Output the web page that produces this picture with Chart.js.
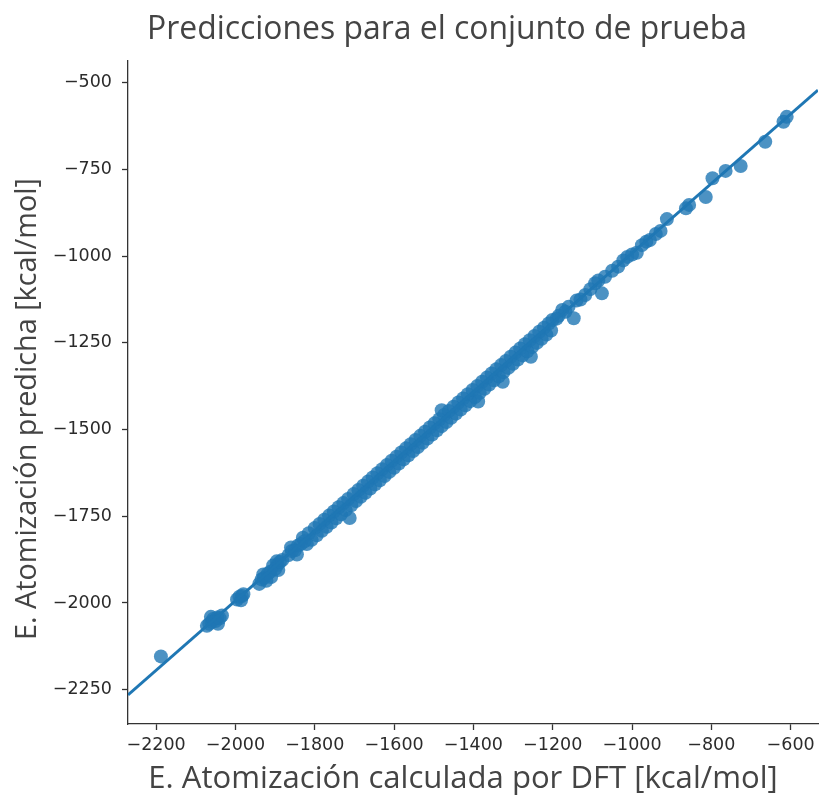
<!DOCTYPE html>
<html>
<head>
<meta charset="utf-8">
<script src="https://cdn.jsdelivr.net/npm/chart.js@4.4.0/dist/chart.umd.min.js"></script>
<style>
  html, body { margin: 0; padding: 0; background: #fff; }
</style>
</head>
<body>
<canvas id="chart" width="825" height="801"></canvas>
<script>
// test set: DFT atomization energy vs predicted (kcal/mol)
const dftX = [
  -2188,
  -2072, -2066, -2062, -2060, -2056, -2050, -2046, -2044, -2040, -2034,
  -1996, -1990, -1986, -1984, -1980,
  -1940, -1934, -1930, -1928, -1922, -1918, -1912, -1910, -1905, -1900, -1896, -1894, -1892, -1888, -1882,
  -1866, -1860, -1858, -1850, -1845, -1842, -1835, -1830, -1826, -1820,
  -1815, -1808, -1800, -1795, -1788, -1782, -1776, -1770, -1764, -1758,
  -1752, -1746, -1740, -1734, -1728, -1722, -1716, -1712, -1708, -1702,
  -1696, -1690, -1684, -1678, -1672, -1666, -1660, -1654, -1648, -1642,
  -1636, -1630, -1624, -1618, -1612, -1606, -1600, -1594, -1588, -1582,
  -1576, -1570, -1564, -1558, -1552, -1546, -1540, -1534, -1528, -1522,
  -1516, -1510, -1504, -1498, -1492, -1486, -1480, -1480, -1474, -1468,
  -1462, -1456, -1450, -1444, -1438, -1432, -1426, -1420, -1414, -1408,
  -1402, -1396, -1388, -1390, -1384, -1378, -1372, -1366, -1360, -1354,
  -1348, -1342, -1336, -1326, -1330, -1324, -1318, -1312, -1306, -1300,
  -1294, -1288, -1282, -1276, -1270, -1264, -1255, -1258, -1252, -1246,
  -1240, -1234, -1228, -1222, -1216, -1210, -1204,
  -1201, -1190, -1185, -1176, -1168, -1160, -1147, -1140, -1130, -1118,
  -1105, -1093, -1085, -1076, -1068, -1050, -1035, -1022, -1012, -1000,
  -988, -975, -964, -955, -940, -928, -912, -864, -856, -814,
  -797, -764, -726, -664, -618, -610
];
const predY = [
  -2154,
  -2066, -2060, -2040, -2054, -2046, -2052, -2042, -2060, -2044, -2036,
  -1990, -1982, -1992, -1980, -1975,
  -1945, -1932, -1918, -1928, -1936, -1915, -1910, -1925, -1892, -1902, -1880, -1890, -1905, -1882, -1876,
  -1862, -1840, -1850, -1848, -1860, -1834, -1830, -1812, -1822, -1830,
  -1799, -1818, -1784, -1805, -1772, -1792, -1760, -1780, -1748, -1768,
  -1736, -1756, -1724, -1744, -1712, -1732, -1700, -1755, -1718, -1686,
  -1706, -1674, -1694, -1662, -1682, -1650, -1670, -1638, -1658, -1626,
  -1646, -1614, -1634, -1602, -1622, -1590, -1610, -1578, -1598, -1566,
  -1586, -1554, -1574, -1542, -1562, -1530, -1550, -1518, -1538, -1506,
  -1526, -1494, -1514, -1482, -1502, -1470, -1444, -1490, -1458, -1478,
  -1446, -1466, -1434, -1454, -1422, -1442, -1410, -1430, -1398, -1418,
  -1386, -1406, -1419, -1374, -1394, -1362, -1382, -1350, -1370, -1338,
  -1358, -1326, -1346, -1362, -1314, -1334, -1302, -1322, -1290, -1310,
  -1278, -1298, -1266, -1286, -1254, -1274, -1290, -1242, -1262, -1230,
  -1250, -1218, -1238, -1206, -1226, -1194, -1214,
  -1184, -1180, -1172, -1155, -1160, -1146, -1179, -1128, -1125, -1112,
  -1095, -1078, -1070, -1107, -1059, -1042, -1030, -1012, -1002, -995,
  -990, -968, -958, -953, -936, -927, -893, -862, -852, -829,
  -775, -754, -740, -670, -612, -598
];
// fitted regression line, drawn across the whole axis
const fitX = [-2271, -531];
const fitY = [-2265, -521];

const xTicks = [-2200, -2000, -1800, -1600, -1400, -1200, -1000, -800, -600];
const yTicks = [-2250, -2000, -1750, -1500, -1250, -1000, -750, -500];

const titleText = 'Predicciones para el conjunto de prueba';
const xTitle = 'E. Atomización calculada por DFT [kcal/mol]';
const yTitle = 'E. Atomización predicha [kcal/mol]';

const blue = '#1f77b4';
const minus = v => (v < 0 ? '\u2212' + Math.abs(v) : String(v));

// pick a font size so the text spans a set width
function fitFont(ctx, text, width, family) {
  ctx.font = '100px ' + family;
  const size = 100 * width / ctx.measureText(text).width;
  return size.toFixed(1) + 'px ' + family;
}

const labels = {
  id: 'labels',
  afterDraw(chart) {
    const ctx = chart.ctx;
    const fam = '"Open Sans", sans-serif';
    ctx.save();
    ctx.fillStyle = '#444';
    ctx.textAlign = 'center';
    ctx.textBaseline = 'middle';
    ctx.font = fitFont(ctx, titleText, 600, fam);
    ctx.fillText(titleText, 447, 30);
    ctx.font = fitFont(ctx, xTitle, 630, fam);
    ctx.fillText(xTitle, 463, 779);
    ctx.translate(28, 409);
    ctx.rotate(-Math.PI / 2);
    ctx.font = fitFont(ctx, yTitle, 462, fam);
    ctx.fillText(yTitle, 0, 0);
    ctx.restore();
  }
};

const axisCommon = {
  type: 'linear',
  border: { display: true, color: '#333', width: 1.3 },
  grid: { display: true, drawOnChartArea: false, drawTicks: true, tickLength: 6, tickWidth: 1.3, tickColor: '#333' },
  ticks: { color: '#2b2b2b', font: { family: '"DejaVu Sans"', size: 17.5 }, callback: v => minus(v) }
};

new Chart(document.getElementById('chart'), {
  data: {
    datasets: [
      {
        type: 'line',
        data: fitX.map((x, i) => ({ x: x, y: fitY[i] })),
        borderColor: blue,
        borderWidth: 3,
        pointRadius: 0,
        order: 0
      },
      {
        type: 'scatter',
        data: dftX.map((x, i) => ({ x: x, y: predY[i] })),
        backgroundColor: 'rgba(31,119,180,0.8)',
        borderWidth: 0,
        pointRadius: 7,
        order: 1
      }
    ]
  },
  options: {
    responsive: false,
    animation: false,
    devicePixelRatio: 1,
    layout: { padding: { top: 61, left: 0, right: -7, bottom: 0 } },
    plugins: { legend: { display: false }, tooltip: { enabled: false } },
    scales: {
      x: Object.assign({}, axisCommon, {
        min: -2271, max: -531,
        ticks: Object.assign({}, axisCommon.ticks, { padding: 5, maxRotation: 0 }),
        afterBuildTicks: s => { s.ticks = xTicks.map(v => ({ value: v })); },
        afterFit: s => { s.height = 77; s.paddingLeft = 0; s.paddingRight = 0; }
      }),
      y: Object.assign({}, axisCommon, {
        min: -2349, max: -437,
        ticks: Object.assign({}, axisCommon.ticks, { padding: 10 }),
        afterBuildTicks: s => { s.ticks = yTicks.map(v => ({ value: v })); },
        afterFit: s => { s.width = 128; s.paddingTop = 0; s.paddingBottom = 0; }
      })
    }
  },
  plugins: [labels]
});
</script>
</body>
</html>
